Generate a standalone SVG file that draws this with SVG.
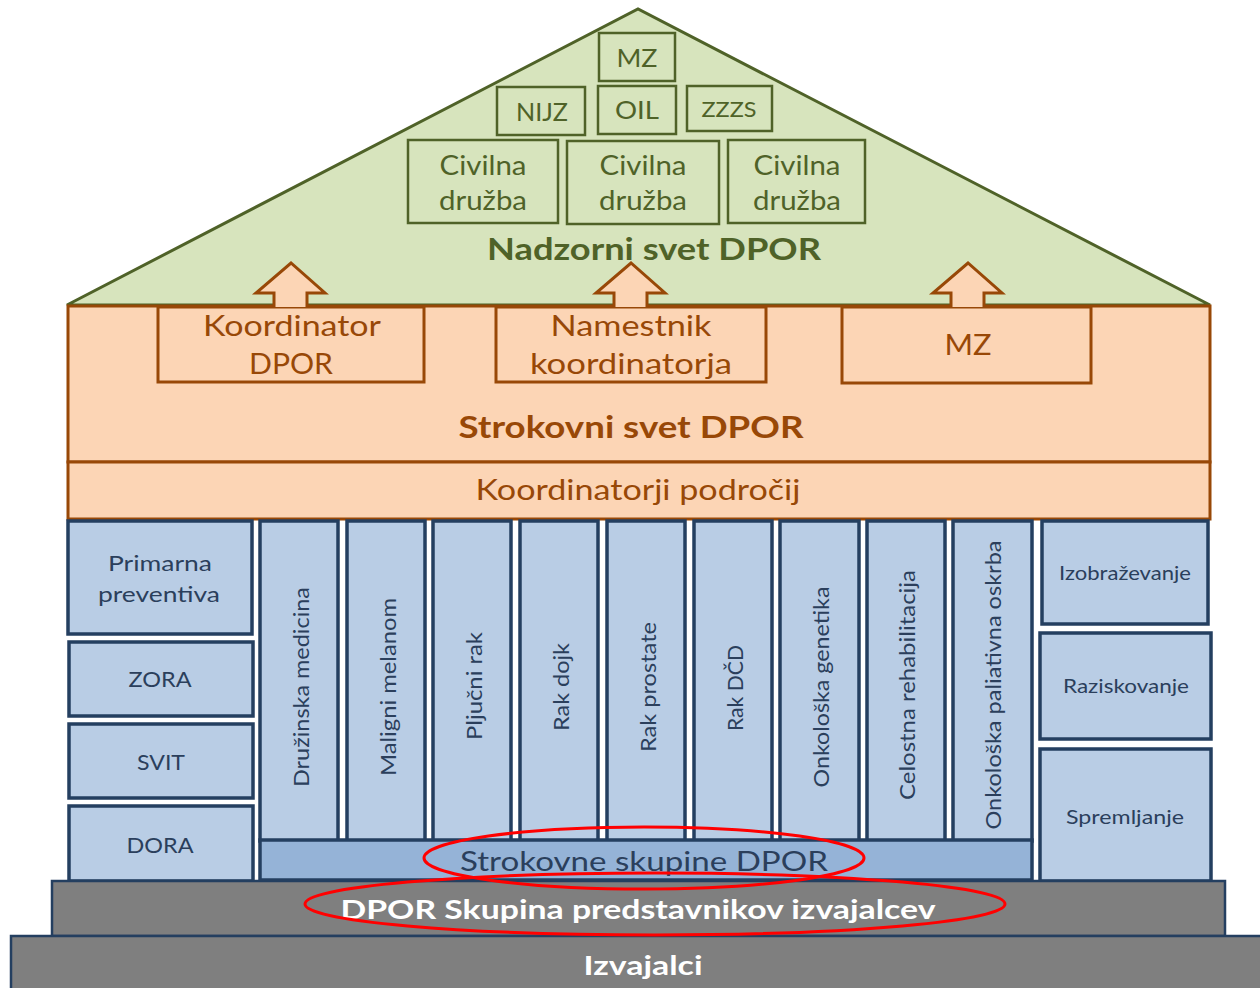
<svg xmlns="http://www.w3.org/2000/svg" width="1260" height="988" viewBox="0 0 1260 988">
<style>
text{font-family:Lato,"Open Sans","Noto Sans",sans-serif;text-anchor:middle}
.g{fill:#d7e4bd;stroke:#4f6228;stroke-width:2.5}
.gt{fill:#4f6228;font-size:27px}
.o{fill:#fcd5b5;stroke:#984807;stroke-width:3}
.ot{fill:#984807;font-size:28px}
.b{fill:#b9cde5;stroke:#243f60;stroke-width:3.5}
.bt{fill:#2b3f5c;font-size:21px}
.vt{fill:#2b3f5c;font-size:22px;dominant-baseline:central}
.gr{fill:#7f7f7f;stroke:#243f60;stroke-width:2.5}
.wt{fill:#fff;font-size:27px;font-weight:bold}
.el{fill:none;stroke:#ff0000;stroke-width:3}
</style>
<rect width="1260" height="988" fill="#fff"/>
<g id="roof">
<polygon class="g" points="67,305 638,9 1210,305" style="stroke-width:3"/>
<text class="gt" x="654" y="260" style="font-size:30px;font-weight:bold" textLength="334" lengthAdjust="spacingAndGlyphs">Nadzorni svet DPOR</text>
</g>
<g id="mz-top"><rect class="g" x="599" y="33" width="76" height="48"/><text class="gt" x="637" y="67" style="font-size:25px" textLength="41" lengthAdjust="spacingAndGlyphs">MZ</text></g>
<g id="nijz"><rect class="g" x="497" y="87" width="88" height="48"/><text class="gt" x="542" y="121" style="font-size:25px" textLength="52" lengthAdjust="spacingAndGlyphs">NIJZ</text></g>
<g id="oil"><rect class="g" x="598" y="86" width="78" height="48"/><text class="gt" x="637" y="119" style="font-size:25px" textLength="44" lengthAdjust="spacingAndGlyphs">OIL</text></g>
<g id="zzzs"><rect class="g" x="687" y="86" width="85" height="45"/><text class="gt" x="729" y="117" style="font-size:21px" textLength="55" lengthAdjust="spacingAndGlyphs">ZZZS</text></g>
<g id="civ1"><rect class="g" x="408" y="140" width="150" height="83"/><text class="gt" x="483" y="175" textLength="87" lengthAdjust="spacingAndGlyphs">Civilna</text><text class="gt" x="483" y="210" textLength="88" lengthAdjust="spacingAndGlyphs">družba</text></g>
<g id="civ2"><rect class="g" x="567" y="141" width="152" height="83"/><text class="gt" x="643" y="175" textLength="87" lengthAdjust="spacingAndGlyphs">Civilna</text><text class="gt" x="643" y="210" textLength="88" lengthAdjust="spacingAndGlyphs">družba</text></g>
<g id="civ3"><rect class="g" x="728" y="140" width="137" height="83"/><text class="gt" x="797" y="175" textLength="87" lengthAdjust="spacingAndGlyphs">Civilna</text><text class="gt" x="797" y="210" textLength="88" lengthAdjust="spacingAndGlyphs">družba</text></g>

<g id="strokovni-svet">
<rect class="o" x="68" y="306" width="1142" height="156"/>
<text class="ot" x="631" y="438" style="font-size:30px;font-weight:bold" textLength="345" lengthAdjust="spacingAndGlyphs">Strokovni svet DPOR</text>
</g>
<g id="koordinatorji">
<rect class="o" x="68" y="462" width="1142" height="57"/>
<text class="ot" x="638" y="500" textLength="325" lengthAdjust="spacingAndGlyphs">Koordinatorji področij</text>
</g>
<g id="koordinator">
<rect class="o" x="158" y="307" width="266" height="75"/>
<path class="o" d="M274,307 V293 H256 L291,263 L325,293 H307 V307"/>
<text class="ot" x="292" y="336" textLength="178" lengthAdjust="spacingAndGlyphs">Koordinator</text><text class="ot" x="291" y="374" textLength="84" lengthAdjust="spacingAndGlyphs">DPOR</text>
</g>
<g id="namestnik">
<rect class="o" x="496" y="307" width="270" height="75"/>
<path class="o" d="M614,307 V293 H596 L631,263 L665,293 H647 V307"/>
<text class="ot" x="631" y="336" textLength="161" lengthAdjust="spacingAndGlyphs">Namestnik</text><text class="ot" x="631" y="374" textLength="202" lengthAdjust="spacingAndGlyphs">koordinatorja</text>
</g>
<g id="mz">
<rect class="o" x="842" y="307" width="249" height="76"/>
<path class="o" d="M951,307 V293 H933 L968,263 L1002,293 H984 V307"/>
<text class="ot" x="968" y="355" textLength="47" lengthAdjust="spacingAndGlyphs">MZ</text>
</g>

<g id="primarna"><rect class="b" x="68" y="521" width="184" height="113"/><text class="bt" x="160" y="571" textLength="104" lengthAdjust="spacingAndGlyphs">Primarna</text><text class="bt" x="159" y="602" textLength="122" lengthAdjust="spacingAndGlyphs">preventiva</text></g>
<g id="zora"><rect class="b" x="69" y="642" width="184" height="74"/><text class="bt" x="160" y="687" textLength="63" lengthAdjust="spacingAndGlyphs">ZORA</text></g>
<g id="svit"><rect class="b" x="69" y="724" width="184" height="74"/><text class="bt" x="161" y="770" textLength="48" lengthAdjust="spacingAndGlyphs">SVIT</text></g>
<g id="dora"><rect class="b" x="69" y="806" width="184" height="75"/><text class="bt" x="160" y="853" textLength="67" lengthAdjust="spacingAndGlyphs">DORA</text></g>

<g id="col1"><rect class="b" x="260" y="521" width="78" height="320"/><text class="vt" transform="translate(300,687) rotate(-90)" textLength="200" lengthAdjust="spacingAndGlyphs">Družinska medicina</text></g>
<g id="col2"><rect class="b" x="347" y="521" width="78" height="320"/><text class="vt" transform="translate(387,687) rotate(-90)" textLength="178" lengthAdjust="spacingAndGlyphs">Maligni melanom</text></g>
<g id="col3"><rect class="b" x="433" y="521" width="78" height="320"/><text class="vt" transform="translate(473,686) rotate(-90)" textLength="108" lengthAdjust="spacingAndGlyphs">Pljučni rak</text></g>
<g id="col4"><rect class="b" x="520" y="521" width="78" height="320"/><text class="vt" transform="translate(560,687) rotate(-90)" textLength="88" lengthAdjust="spacingAndGlyphs">Rak dojk</text></g>
<g id="col5"><rect class="b" x="607" y="521" width="78" height="320"/><text class="vt" transform="translate(647,687) rotate(-90)" textLength="130" lengthAdjust="spacingAndGlyphs">Rak prostate</text></g>
<g id="col6"><rect class="b" x="694" y="521" width="78" height="320"/><text class="vt" transform="translate(734,688) rotate(-90)" textLength="86" lengthAdjust="spacingAndGlyphs">Rak DČD</text></g>
<g id="col7"><rect class="b" x="780" y="521" width="79" height="320"/><text class="vt" transform="translate(820,687) rotate(-90)" textLength="201" lengthAdjust="spacingAndGlyphs">Onkološka genetika</text></g>
<g id="col8"><rect class="b" x="867" y="521" width="78" height="320"/><text class="vt" transform="translate(906,685) rotate(-90)" textLength="230" lengthAdjust="spacingAndGlyphs">Celostna rehabilitacija</text></g>
<g id="col9"><rect class="b" x="953" y="521" width="79" height="320"/><text class="vt" transform="translate(992,685) rotate(-90)" textLength="289" lengthAdjust="spacingAndGlyphs">Onkološka paliativna oskrba</text></g>

<g id="strokovne-skupine"><rect class="b" x="260" y="840" width="772" height="40" style="fill:#95b3d7"/><text class="bt" x="644" y="871" style="font-size:27px" textLength="368" lengthAdjust="spacingAndGlyphs">Strokovne skupine DPOR</text></g>

<g id="izobrazevanje"><rect class="b" x="1042" y="521" width="166" height="103"/><text class="bt" x="1125" y="580" style="font-size:19px" textLength="132" lengthAdjust="spacingAndGlyphs">Izobraževanje</text></g>
<g id="raziskovanje"><rect class="b" x="1040" y="633" width="171" height="106"/><text class="bt" x="1126" y="693" style="font-size:19px" textLength="126" lengthAdjust="spacingAndGlyphs">Raziskovanje</text></g>
<g id="spremljanje"><rect class="b" x="1040" y="749" width="171" height="132"/><text class="bt" x="1125" y="824" style="font-size:19px" textLength="118" lengthAdjust="spacingAndGlyphs">Spremljanje</text></g>

<g id="skupina-predstavnikov"><rect class="gr" x="52" y="881" width="1173" height="55"/><text class="wt" x="638" y="919" textLength="595" lengthAdjust="spacingAndGlyphs">DPOR Skupina predstavnikov izvajalcev</text></g>
<g id="izvajalci"><rect class="gr" x="11" y="936" width="1260" height="60"/><text class="wt" x="643" y="975" textLength="119" lengthAdjust="spacingAndGlyphs">Izvajalci</text></g>

<g id="connectors">
<ellipse class="el" cx="644" cy="858" rx="220" ry="31"/>
<ellipse class="el" cx="655" cy="904" rx="350" ry="31"/>
</g>
</svg>
